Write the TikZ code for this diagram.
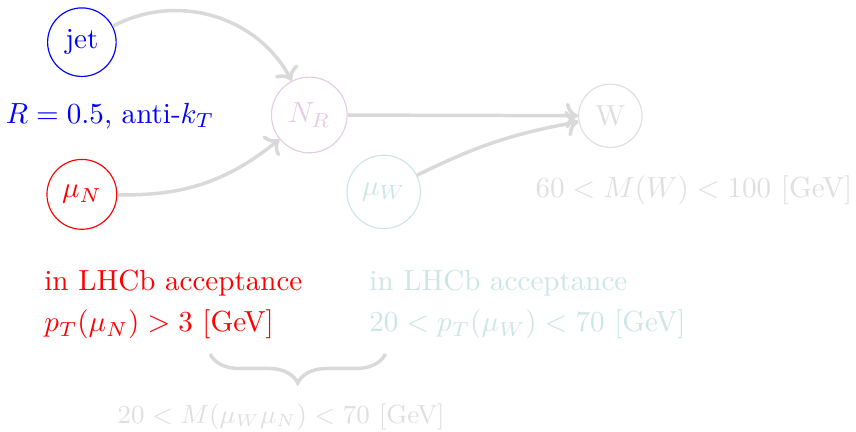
\documentclass[tikz,border=0pt]{standalone}
\usetikzlibrary{arrows.meta,decorations.pathreplacing}

\begin{document}
\begin{tikzpicture}[>=To,
    particle/.style={circle,draw,thin},
    link/.style={->,very thick,gray!30}]
  \useasboundingbox (0,0) rectangle (10.35,-5.22);
  % particles
  \node[particle,draw=blue,text=blue] (jet) at (0.99,-0.51) {jet};
  \node[particle,draw=red,text=red] (muN) at (0.99,-2.35) {$\mu_N$};
  \node[particle,draw=violet!20,text=violet!20] (NR) at (3.74,-1.39) {$N_R$};
  \node[particle,draw=teal!20,text=teal!20] (muW) at (4.64,-2.32) {$\mu_W$};
  \node[particle,draw=gray!25,text=gray!25] (W) at (7.38,-1.40) {W};
  % connections
  \draw[link] (jet) to[bend left=45] (NR);
  \draw[link] (muN) to[bend right=20] (NR);
  \draw[link] (NR) -- (W);
  \draw[link] (muW) to[bend left=8] (W);
  % cuts
  \node[blue] (jetcut) at (1.33,-1.40) {$R=0.5$, anti-$k_T$};
  \node[red,anchor=west,align=left,inner sep=0pt] (muNcut) at (0.53,-3.68)
    {in LHCb acceptance\\[2.3pt] $p_T(\mu_N)>3$ [GeV]};
  \node[teal!20,anchor=west,align=left,inner sep=0pt] (muWcut) at (4.46,-3.68)
    {in LHCb acceptance\\[2.3pt] $20<p_T(\mu_W)<70$ [GeV]};
  \node[gray!25] (Wcut) at (8.39,-2.30) {$60<M(W)<100$ [GeV]};
  \coordinate (braceL) at (2.54,-4.28);
  \coordinate (braceR) at (4.66,-4.28);
  \draw[very thick,gray!30,decorate,decoration={brace,mirror,amplitude=0.35cm}]
    (braceL) -- (braceR);
  \node[gray!25,font=\small] (masscut) at (3.40,-5.04) {$20<M(\mu_W\mu_N)<70$ [GeV]};
\end{tikzpicture}
\end{document}
